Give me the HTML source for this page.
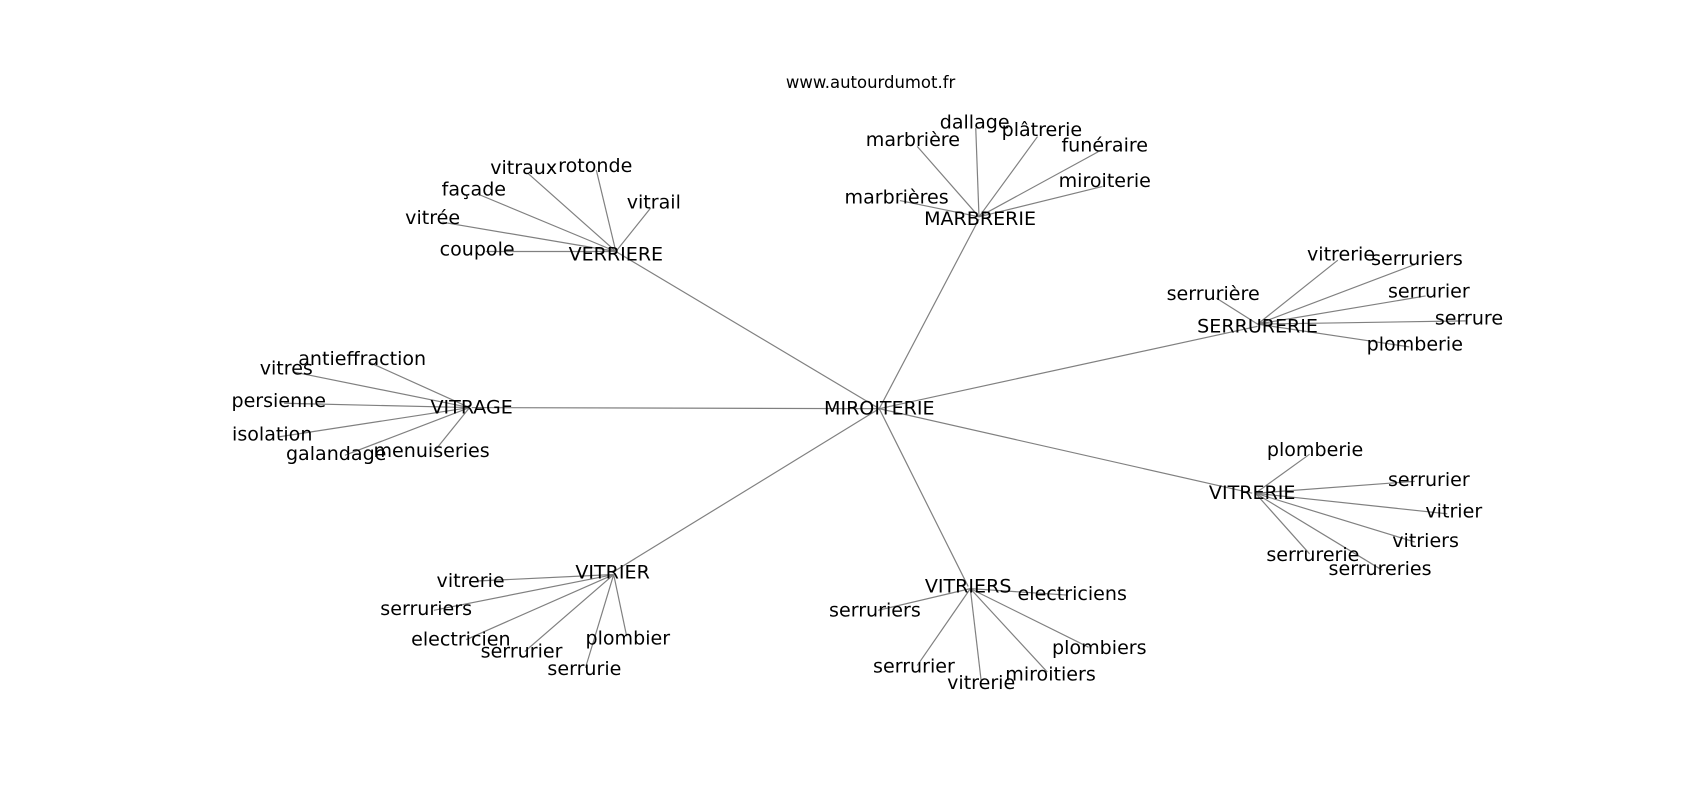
<!DOCTYPE html>
<html><head><meta charset="utf-8"><style>
html,body{margin:0;padding:0;background:#fff;}
svg{display:block;}
text{font-family:"DejaVu Sans","Liberation Sans",sans-serif;fill:#000;}
</style></head><body>
<svg width="1700" height="800" viewBox="0 0 1568 738" xmlns="http://www.w3.org/2000/svg">
<g stroke="#808080" stroke-width="1.1" fill="none">
<line x1="811" y1="377" x2="568" y2="232"/>
<line x1="811" y1="377" x2="903" y2="202"/>
<line x1="811" y1="377" x2="1160" y2="301"/>
<line x1="811" y1="377" x2="435" y2="376"/>
<line x1="811" y1="377" x2="1155" y2="455"/>
<line x1="811" y1="377" x2="565" y2="528"/>
<line x1="811" y1="377" x2="893" y2="541"/>
<line x1="568" y1="232" x2="487" y2="160"/>
<line x1="568" y1="232" x2="550" y2="157"/>
<line x1="568" y1="232" x2="600" y2="192"/>
<line x1="568" y1="232" x2="443" y2="180"/>
<line x1="568" y1="232" x2="408" y2="205"/>
<line x1="568" y1="232" x2="448" y2="232"/>
<line x1="903" y1="200" x2="846" y2="135"/>
<line x1="903" y1="200" x2="900" y2="118"/>
<line x1="903" y1="200" x2="957" y2="126"/>
<line x1="903" y1="200" x2="1013" y2="140"/>
<line x1="903" y1="200" x2="1017" y2="172"/>
<line x1="903" y1="200" x2="830" y2="185"/>
<line x1="1160" y1="299" x2="1234" y2="240"/>
<line x1="1160" y1="299" x2="1305" y2="244"/>
<line x1="1160" y1="299" x2="1122" y2="275"/>
<line x1="1160" y1="299" x2="1315" y2="273"/>
<line x1="1160" y1="299" x2="1352" y2="296"/>
<line x1="1160" y1="299" x2="1300" y2="320"/>
<line x1="433" y1="376" x2="340" y2="334"/>
<line x1="433" y1="376" x2="270" y2="343"/>
<line x1="433" y1="376" x2="262" y2="372"/>
<line x1="433" y1="376" x2="257" y2="403"/>
<line x1="433" y1="376" x2="318" y2="420"/>
<line x1="433" y1="376" x2="400" y2="417"/>
<line x1="1158" y1="455" x2="1208" y2="419"/>
<line x1="1158" y1="455" x2="1305" y2="444"/>
<line x1="1158" y1="455" x2="1335" y2="474"/>
<line x1="1158" y1="455" x2="1305" y2="500"/>
<line x1="1158" y1="455" x2="1208" y2="511"/>
<line x1="1158" y1="455" x2="1275" y2="526"/>
<line x1="566" y1="530" x2="440" y2="536"/>
<line x1="566" y1="530" x2="400" y2="563"/>
<line x1="566" y1="530" x2="430" y2="590"/>
<line x1="566" y1="530" x2="484" y2="601"/>
<line x1="566" y1="530" x2="540" y2="616"/>
<line x1="566" y1="530" x2="578" y2="587"/>
<line x1="895" y1="543" x2="810" y2="563"/>
<line x1="895" y1="543" x2="985" y2="549"/>
<line x1="895" y1="543" x2="846" y2="614"/>
<line x1="895" y1="543" x2="905" y2="628"/>
<line x1="895" y1="543" x2="966" y2="620"/>
<line x1="895" y1="543" x2="1004" y2="597"/>
</g>
<g font-size="17.6" text-anchor="middle" dominant-baseline="central">
<text x="803" y="76" font-size="15.2">www.autourdumot.fr</text>
<text x="811" y="377">MIROITERIE</text>
<text x="568" y="235">VERRIERE</text>
<text x="483" y="155">vitraux</text>
<text x="549" y="153">rotonde</text>
<text x="603" y="187">vitrail</text>
<text x="437" y="175">façade</text>
<text x="399" y="201">vitrée</text>
<text x="440" y="230">coupole</text>
<text x="904" y="202">MARBRERIE</text>
<text x="842" y="129">marbrière</text>
<text x="899" y="113">dallage</text>
<text x="961" y="120">plâtrerie</text>
<text x="1019" y="134">funéraire</text>
<text x="1019" y="167">miroiterie</text>
<text x="827" y="182">marbrières</text>
<text x="1160" y="301">SERRURERIE</text>
<text x="1237" y="235">vitrerie</text>
<text x="1307" y="239">serruriers</text>
<text x="1119" y="271">serrurière</text>
<text x="1318" y="269">serrurier</text>
<text x="1355" y="294">serrure</text>
<text x="1305" y="318">plomberie</text>
<text x="435" y="376">VITRAGE</text>
<text x="334" y="331">antieffraction</text>
<text x="264" y="340">vitres</text>
<text x="257" y="370">persienne</text>
<text x="251" y="401">isolation</text>
<text x="310" y="419">galandage</text>
<text x="398" y="416">menuiseries</text>
<text x="1155" y="455">VITRERIE</text>
<text x="1213" y="415">plomberie</text>
<text x="1318" y="443">serrurier</text>
<text x="1341" y="472">vitrier</text>
<text x="1315" y="499">vitriers</text>
<text x="1211" y="512">serrurerie</text>
<text x="1273" y="525">serrureries</text>
<text x="565" y="528">VITRIER</text>
<text x="434" y="536">vitrerie</text>
<text x="393" y="562">serruriers</text>
<text x="425" y="590">electricien</text>
<text x="481" y="601">serrurier</text>
<text x="539" y="617">serrurie</text>
<text x="579" y="589">plombier</text>
<text x="893" y="541">VITRIERS</text>
<text x="807" y="563">serruriers</text>
<text x="989" y="548">electriciens</text>
<text x="843" y="615">serrurier</text>
<text x="905" y="630">vitrerie</text>
<text x="969" y="622">miroitiers</text>
<text x="1014" y="598">plombiers</text>
</g>
</svg>
</body></html>
